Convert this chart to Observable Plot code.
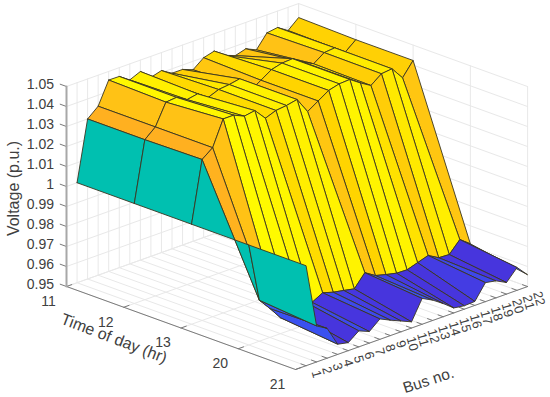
<!DOCTYPE html>
<html><head><meta charset="utf-8">
<style>html,body{margin:0;padding:0;background:#fff}svg{display:block}</style>
<script src="https://cdn.jsdelivr.net/npm/d3@7"></script>
<script src="https://cdn.jsdelivr.net/npm/@observablehq/plot@0.6"></script>
</head><body><div id="chart"></div>
<script>
const buses = d3.range(1, 23);
const busTicks = buses;
const timeLabels = ["11", "12", "13", "20", "21"];
const voltTicks = [0.95,0.96,0.97,0.98,0.99,1,1.01,1.02,1.03,1.04,1.05];
const v11 = [1.0,1.03,1.0345,1.0457,1.0456,1.042,1.0443,1.0395,1.041,1.0378,1.0378,1.0358,1.0399,1.0413,1.0373,1.0353,1.0368,1.0344,1.041,1.0418,1.0384,1.043];
const v12 = [1.0,1.03,1.0345,1.045,1.0455,1.0425,1.0435,1.0398,1.0419,1.0425,1.0435,1.0356,1.039,1.0424,1.0438,1.0441,1.0405,1.0378,1.0415,1.042,1.038,1.0423];
const v13 = [1.0,1.0305,1.0345,1.047,1.047,1.0446,1.0455,1.0398,1.0418,1.0424,1.0435,1.0356,1.039,1.0424,1.0438,1.0441,1.0405,1.0373,1.0413,1.0419,1.0355,1.0423];
const v20 = [1.0,0.9705,0.9645,0.958,0.9595,0.963,0.96,0.9629,0.9613,0.9603,0.9592,0.9654,0.9621,0.9607,0.9595,0.9593,0.961,0.9627,0.9597,0.9594,0.965,0.961];
const v21 = [1.0,0.968,0.9649,0.9551,0.954,0.958,0.9558,0.9602,0.9577,0.9554,0.9531,0.9629,0.9602,0.9566,0.9525,0.9517,0.952,0.9595,0.9585,0.9558,0.9614,0.9559];
const volts = [v11, v12, v13, v20, v21];
const colorStops = [0.95,0.96,0.964,0.97,1.0,1.03,1.035,1.039,1.042,1.047];
const colorRange = ["#4a33cc","#4735de","#3a50f0","#3a58f0","#00c0b0","#ffb020","#ffc414","#ffd400","#fff000","#fffa00"];

// orthographic view of the 3-D box (bus, time index, volts) onto the page plane
const view = {ox:66, oy:286, nx:10.55, ny:-3.77, kx:57.25, ky:20.75, vs:2000, v0:0.95};
const X = (n,k) => view.ox + n*view.nx + k*view.kx;
const Y = (n,k,v) => view.oy + n*view.ny + k*view.ky - (v-view.v0)*view.vs;

// grid
const grid = [];
let gid = 0;
const seg = (a,b) => { gid++; for (const [n,k,v] of [a,b]) grid.push({id:gid,x:X(n,k),y:Y(n,k,v)}); };
const nMax = 22, kMax = 4, vLo = 0.95, vHi = 1.05;
for (const n of d3.range(0,nMax+1)) { seg([n,0,vLo],[n,0,vHi]); seg([n,0,vLo],[n,kMax,vLo]); }
for (const k of d3.range(0,kMax+1)) { seg([nMax,k,vLo],[nMax,k,vHi]); seg([0,k,vLo],[nMax,k,vLo]); }
for (const v of voltTicks) { seg([0,0,v],[nMax,0,v]); seg([nMax,0,v],[nMax,kMax,v]); }

// surface faces, far to near; colour from the face's lowest-index corner
const faces = [];
let fid = 0;
for (let n = 21; n >= 1; n--) for (let k = 0; k < 4; k++) {
  fid++;
  const c = volts[k][n-1];
  for (const [a,b] of [[n,k],[n+1,k],[n+1,k+1],[n,k+1],[n,k]]) {
    const v = volts[b][a-1];
    faces.push({id:fid, x:X(a,b), y:Y(a,b,v), c});
  }
}

// axis lines and ticks
const axisRows = [];
let aid = 0;
const aseg = (a,b) => { aid++; for (const [n,k,v] of [a,b]) axisRows.push({id:aid,x:X(n,k),y:Y(n,k,v)}); };
aseg([0,0,vLo],[0,kMax,vLo]);
aseg([0,kMax,vLo],[nMax,kMax,vLo]);
for (const v of voltTicks) aseg([0,-0.11,v],[0,0,v]);
for (const k of d3.range(0,kMax+1)) aseg([0,k,vLo],[0.5,k,vLo]);
for (const n of busTicks) aseg([n,kMax,vLo],[n,kMax-0.09,vLo]);

const ink = "#404040";
const chart = Plot.plot({
  width:550, height:397, margin:0,
  x:{domain:[0,550], range:[0,550], axis:null},
  y:{domain:[0,397], range:[0,397], axis:null},
  color:{type:"linear", domain:colorStops, range:colorRange},
  style:{background:"#fff", fontFamily:"'Liberation Sans', Arial, sans-serif"},
  marks:[
    Plot.line(grid,{x:"x",y:"y",z:"id",stroke:"#e8e8e8",strokeWidth:1}),
    Plot.line(axisRows,{x:"x",y:"y",z:"id",stroke:"#7a7a7a",strokeWidth:1}),
    Plot.line([{x:X(0,0),y:Y(0,0,vLo)},{x:X(0,0),y:Y(0,0,vHi)}],{x:"x",y:"y",stroke:"#a8a8a8",strokeWidth:2}),
    Plot.line(faces,{x:"x",y:"y",z:"id",fill:"c",stroke:"#3a3520",strokeWidth:0.9,strokeLinejoin:"round"}),
    Plot.text(voltTicks,{x:()=>53.5,y:v=>Y(0,0,v)-2,text:v=>String(v),textAnchor:"end",fontSize:14,fill:ink}),
    Plot.text(timeLabels,{x:(d,i)=>X(0,i)-18,y:(d,i)=>Y(0,i,vLo)+15,text:d=>d,fontSize:14,fill:ink}),
    Plot.text(busTicks,{x:n=>X(n,kMax)+9.5,y:n=>Y(n,kMax,vLo)+5,text:n=>String(n),rotate:75,textAnchor:"start",fontSize:13,fill:ink}),
    Plot.text(["Time of day (hr)"],{x:()=>113.5,y:()=>338,text:d=>d,rotate:21,fontSize:16,fill:ink}),
    Plot.text(["Bus no."],{x:()=>428,y:()=>380,text:d=>d,rotate:-18,fontSize:15.5,fill:ink}),
    Plot.text(["Voltage (p.u.)"],{x:()=>13,y:()=>188,text:d=>d,rotate:-90,fontSize:16,fill:ink})
  ]
});
document.getElementById("chart").append(chart);
</script></body></html>
